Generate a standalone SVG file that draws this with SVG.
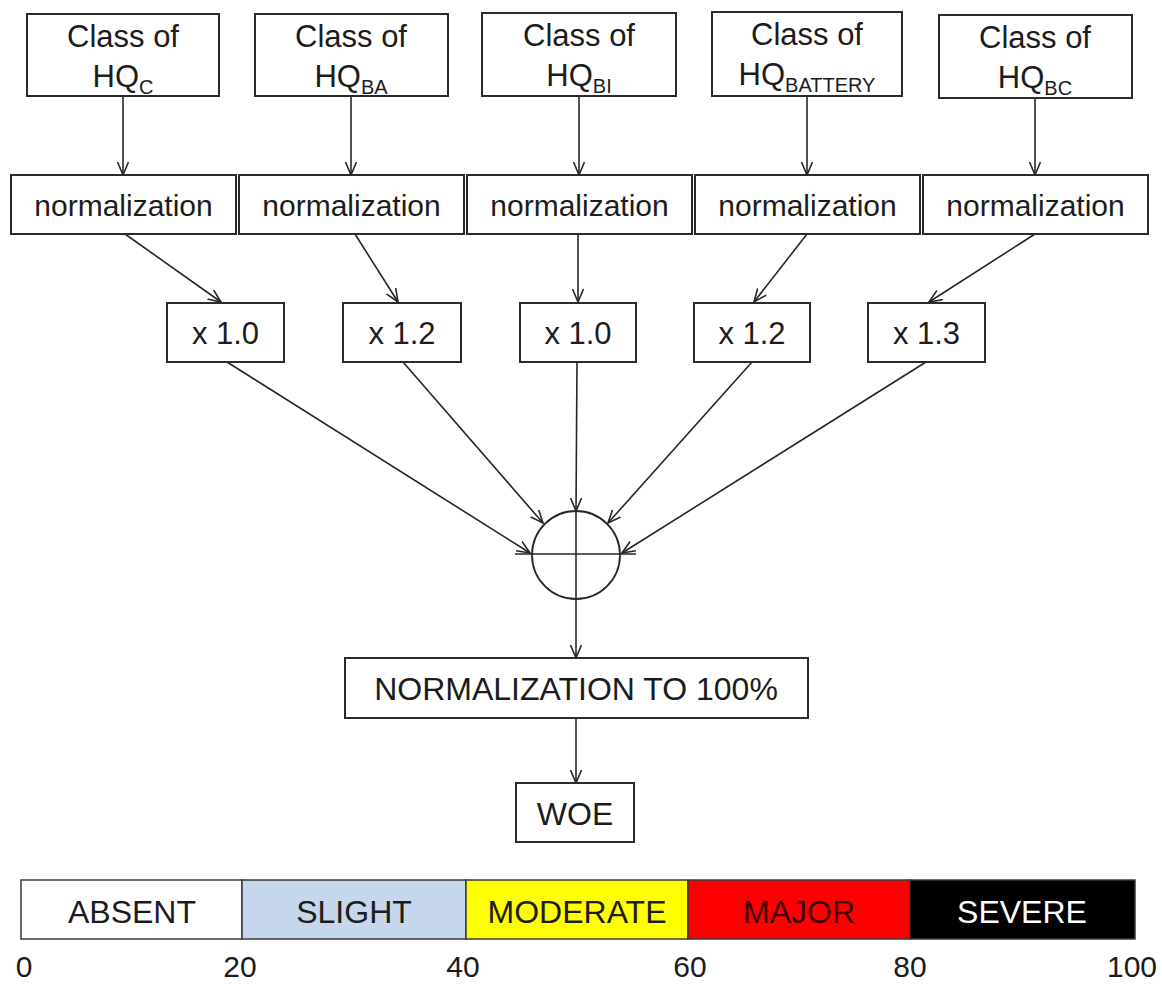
<svg xmlns="http://www.w3.org/2000/svg" width="1162" height="984" viewBox="0 0 1162 984">
  <defs>
    <marker id="arrow" markerUnits="userSpaceOnUse" markerWidth="16" markerHeight="14" refX="13" refY="6" orient="auto">
      <path d="M0,0.5 L13,6 L0,11.5" fill="none" stroke="#262626" stroke-width="1.6"/>
    </marker>
    <style>
      .box { fill: #ffffff; stroke: #2b2b2b; stroke-width: 2; }
      .txt { font-family: "Liberation Sans", Arial, sans-serif; fill: #1c1c1c; text-anchor: middle; }
      .t30 { font-size: 30px; }
      .t31 { font-size: 31px; }
      .t32 { font-size: 32px; }
      .sub { font-size: 20px; }
      .conn { fill: none; stroke: #262626; stroke-width: 1.6; marker-end: url(#arrow); }
      .plain { fill: none; stroke: #262626; stroke-width: 1.6; }
      .seg { stroke: #3a3a3a; stroke-width: 1.5; }
      .lbl { font-family: "Liberation Sans", Arial, sans-serif; font-size: 30px; fill: #1c1c1c; text-anchor: middle; }
    </style>
  </defs>
  <rect width="1162" height="984" fill="#ffffff"/>

  <!-- connectors -->
  <g id="connectors">
    <!-- class boxes to normalization -->
    <line class="conn" x1="123" y1="96" x2="123" y2="175"/>
    <line class="conn" x1="351" y1="96" x2="351" y2="175"/>
    <line class="conn" x1="579" y1="96" x2="579" y2="175"/>
    <line class="conn" x1="807" y1="96" x2="807" y2="175"/>
    <line class="conn" x1="1035" y1="98" x2="1035" y2="175"/>
    <!-- normalization to weights -->
    <line class="conn" x1="125" y1="234" x2="221" y2="302"/>
    <line class="conn" x1="355" y1="234" x2="398" y2="302"/>
    <line class="conn" x1="578" y1="234" x2="578" y2="302"/>
    <line class="conn" x1="807" y1="234" x2="754" y2="302"/>
    <line class="conn" x1="1035" y1="234" x2="929" y2="302"/>
    <!-- weights to summing junction -->
    <line class="conn" x1="227" y1="362" x2="530" y2="553"/>
    <line class="conn" x1="403" y1="362" x2="543" y2="523"/>
    <line class="conn" x1="577" y1="362" x2="576" y2="511"/>
    <line class="conn" x1="752" y1="362" x2="608" y2="523"/>
    <line class="conn" x1="926" y1="362" x2="622" y2="553"/>
    <!-- junction to output chain -->
    <line class="conn" x1="576" y1="599" x2="576" y2="658"/>
    <line class="conn" x1="576" y1="718" x2="576" y2="783"/>
  </g>

  <!-- class inputs -->
  <g id="class-c">
    <rect class="box" x="27" y="14" width="192" height="82"/>
    <text class="txt t31" x="123" y="47">Class of</text>
    <text class="txt t31" x="123" y="87">HQ<tspan class="sub" dy="7">C</tspan></text>
  </g>
  <g id="class-ba">
    <rect class="box" x="255" y="14" width="193" height="82"/>
    <text class="txt t31" x="351" y="47">Class of</text>
    <text class="txt t31" x="351" y="87">HQ<tspan class="sub" dy="7">BA</tspan></text>
  </g>
  <g id="class-bi">
    <rect class="box" x="482" y="13" width="194" height="83"/>
    <text class="txt t31" x="579" y="46">Class of</text>
    <text class="txt t31" x="579" y="86">HQ<tspan class="sub" dy="7">BI</tspan></text>
  </g>
  <g id="class-battery">
    <rect class="box" x="712" y="12" width="190" height="84"/>
    <text class="txt t31" x="807" y="45">Class of</text>
    <text class="txt t31" x="807" y="85">HQ<tspan class="sub" dy="7">BATTERY</tspan></text>
  </g>
  <g id="class-bc">
    <rect class="box" x="939" y="15" width="193" height="83"/>
    <text class="txt t31" x="1035" y="48">Class of</text>
    <text class="txt t31" x="1035" y="88">HQ<tspan class="sub" dy="7">BC</tspan></text>
  </g>

  <!-- normalization steps -->
  <g id="norm-c">
    <rect class="box" x="11" y="175" width="225" height="59"/>
    <text class="txt t30" x="123.5" y="216">normalization</text>
  </g>
  <g id="norm-ba">
    <rect class="box" x="239" y="175" width="225" height="59"/>
    <text class="txt t30" x="351.5" y="216">normalization</text>
  </g>
  <g id="norm-bi">
    <rect class="box" x="467" y="175" width="225" height="59"/>
    <text class="txt t30" x="579.5" y="216">normalization</text>
  </g>
  <g id="norm-battery">
    <rect class="box" x="695" y="175" width="225" height="59"/>
    <text class="txt t30" x="807.5" y="216">normalization</text>
  </g>
  <g id="norm-bc">
    <rect class="box" x="923" y="175" width="225" height="59"/>
    <text class="txt t30" x="1035.5" y="216">normalization</text>
  </g>

  <!-- weights -->
  <g id="weight-c">
    <rect class="box" x="167" y="303" width="117" height="59"/>
    <text class="txt t31" x="225.5" y="344">x 1.0</text>
  </g>
  <g id="weight-ba">
    <rect class="box" x="343" y="303" width="118" height="59"/>
    <text class="txt t31" x="402" y="344">x 1.2</text>
  </g>
  <g id="weight-bi">
    <rect class="box" x="520" y="303" width="116" height="59"/>
    <text class="txt t31" x="578" y="344">x 1.0</text>
  </g>
  <g id="weight-battery">
    <rect class="box" x="694" y="303" width="116" height="59"/>
    <text class="txt t31" x="752" y="344">x 1.2</text>
  </g>
  <g id="weight-bc">
    <rect class="box" x="868" y="303" width="117" height="59"/>
    <text class="txt t31" x="926.5" y="344">x 1.3</text>
  </g>

  <!-- summing junction -->
  <g id="sum">
    <circle cx="576" cy="555" r="44" fill="none" stroke="#262626" stroke-width="1.8"/>
    <line class="plain" x1="515" y1="554" x2="636" y2="554"/>
    <line class="plain" x1="576" y1="511" x2="576" y2="599"/>
  </g>

  <g id="normalization-100">
    <rect class="box" x="345" y="658" width="463" height="60"/>
    <text class="txt t32" x="576" y="700">NORMALIZATION TO 100%</text>
  </g>

  <g id="woe">
    <rect class="box" x="516" y="783" width="118" height="59"/>
    <text class="txt t32" x="575" y="825">WOE</text>
  </g>

  <!-- severity scale -->
  <g id="scale">
    <rect class="seg" x="21" y="880" width="221" height="59" fill="#ffffff"/>
    <rect class="seg" x="242" y="880" width="224" height="59" fill="#c6d7ed"/>
    <rect class="seg" x="466" y="880" width="222" height="59" fill="#ffff00"/>
    <rect class="seg" x="688" y="880" width="222" height="59" fill="#ff0000"/>
    <rect class="seg" x="910" y="880" width="225" height="59" fill="#000000"/>
    <text class="txt t32" x="132" y="923">ABSENT</text>
    <text class="txt t32" x="354" y="923">SLIGHT</text>
    <text class="txt t32" x="577" y="923">MODERATE</text>
    <text class="txt t32" x="799" y="923" style="fill:#3a0000">MAJOR</text>
    <text class="txt t32" x="1022" y="923" style="fill:#ffffff">SEVERE</text>
    <text class="lbl" x="24" y="977">0</text>
    <text class="lbl" x="240" y="977">20</text>
    <text class="lbl" x="463" y="977">40</text>
    <text class="lbl" x="690" y="977">60</text>
    <text class="lbl" x="910" y="977">80</text>
    <text class="lbl" x="1132" y="977">100</text>
  </g>
</svg>
